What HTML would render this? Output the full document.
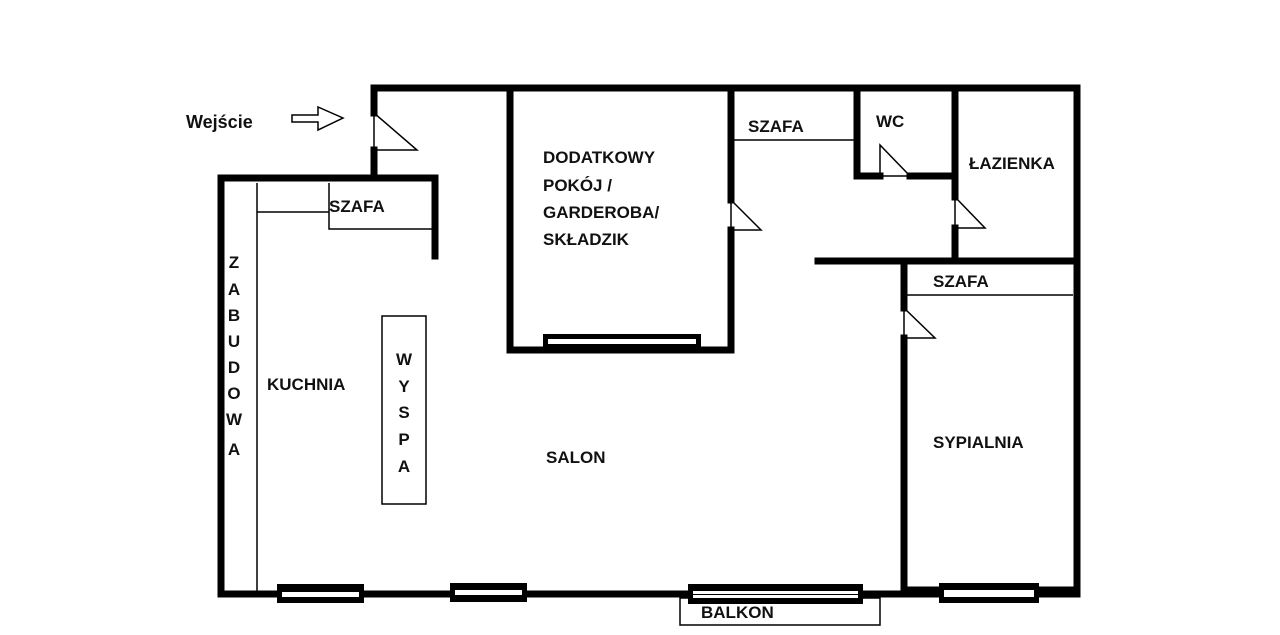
<!DOCTYPE html>
<html><head><meta charset="utf-8"><style>
html,body{margin:0;padding:0;background:#fff;}
svg{display:block}
text{font-family:"Liberation Sans",sans-serif;font-weight:bold;font-size:17px;fill:#111}
</style></head><body>
<svg width="1280" height="635" viewBox="0 0 1280 635">
<g stroke="#000" stroke-width="7" fill="none" stroke-linecap="square">
<!-- top wall -->
<path d="M374 88 H1077"/>
<path d="M374 88 V113 M374 150 V178"/>
<path d="M221 178 H435 V256"/>
<path d="M221 178 V594 H1077 V88"/>
<!-- dodatkowy -->
<path d="M510 88 V350 H731 V230 M731 200 V88"/>
<!-- WC -->
<path d="M857 88 V176 H880 M910 176 H955"/>
<path d="M955 88 V197 M955 228 V261"/>
<path d="M818 261 H1077"/>
<path d="M904 261 V308 M904 338 V590 H1077"/>
</g>
<g stroke="#000" stroke-width="1.5" fill="none">
<path d="M257 183 V591 M257 212 H329 M329 183 V229 H432"/>
<rect x="382" y="316" width="44" height="188"/>
<path d="M733 140 H855 M907 295 H1073"/>
<rect x="680" y="598" width="200" height="27"/>
<!-- doors -->
<path d="M374 113 V150 H417 Z"/>
<path d="M731 200 V230 H761 Z"/>
<path d="M880 145 V176 H910 Z"/>
<path d="M955 197 V228 H985 Z"/>
<path d="M904 308 V338 H935 Z"/>
<!-- arrow -->
<path d="M292 115 H318 V107 L343 118 L318 130 V122 H292 Z"/>
</g>
<!-- windows -->
<g fill="#000">
<rect x="277" y="584" width="87" height="19"/>
<rect x="450" y="583" width="77" height="19"/>
<rect x="688" y="584" width="175" height="20"/>
<rect x="939" y="583" width="100" height="20"/>
<rect x="543" y="334" width="158" height="13"/>
</g>
<g fill="#fff">
<rect x="282" y="592" width="77" height="5"/>
<rect x="455" y="590" width="67" height="5"/>
<rect x="693" y="591" width="165" height="7"/>
<rect x="944" y="590" width="90" height="7"/>
<rect x="548" y="339" width="148" height="5"/>
</g>
<path d="M693 594.5 H858" stroke="#000" stroke-width="1"/>
<text x="186" y="128" style="font-size:18px">Wejście</text>
<text x="329" y="212">SZAFA</text>
<text x="543" y="163">DODATKOWY</text>
<text x="543" y="191">POKÓJ /</text>
<text x="543" y="218">GARDEROBA/</text>
<text x="543" y="245">SKŁADZIK</text>
<text x="748" y="132">SZAFA</text>
<text x="876" y="127">WC</text>
<text x="969" y="169">ŁAZIENKA</text>
<text x="933" y="287">SZAFA</text>
<text x="267" y="390">KUCHNIA</text>
<text x="546" y="463">SALON</text>
<text x="933" y="448">SYPIALNIA</text>
<text x="701" y="618">BALKON</text>
<g text-anchor="middle">
<text x="234" y="268">Z</text><text x="234" y="295">A</text><text x="234" y="321">B</text>
<text x="234" y="347">U</text><text x="234" y="373">D</text><text x="234" y="399">O</text>
<text x="234" y="425">W</text><text x="234" y="455">A</text>
<text x="404" y="365">W</text><text x="404" y="392">Y</text><text x="404" y="418">S</text>
<text x="404" y="445">P</text><text x="404" y="472">A</text>
</g>
</svg>
</body></html>
